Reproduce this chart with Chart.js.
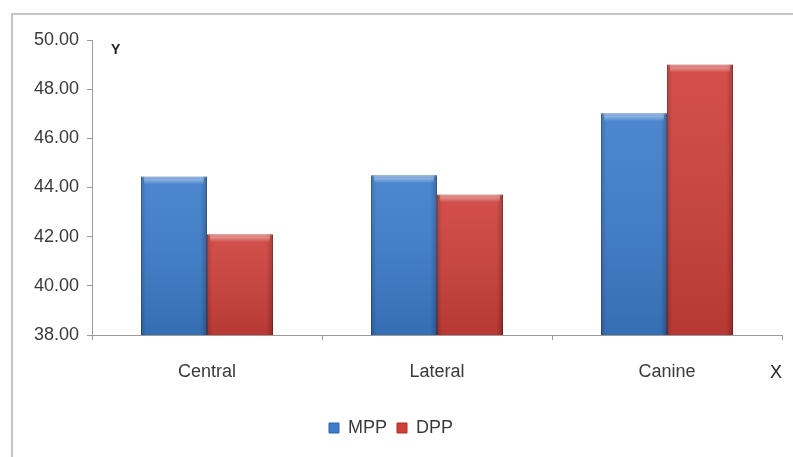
<!DOCTYPE html>
<html>
<head>
<meta charset="utf-8">
<script src="https://cdn.jsdelivr.net/npm/chart.js@4.4.1/dist/chart.umd.min.js"></script>
<style>
    html, body { margin: 0; padding: 0; background: #fff; overflow: hidden; }
    #frame {
        position: absolute; left: 11px; top: 13px;
        width: 800px; height: 460px;
        border-left: 2px solid #c4c4c4; border-top: 2px solid #c4c4c4;
    }
    #box { position: absolute; left: 0; top: 0; width: 793px; height: 457px; }
</style>
</head>
<body>
<div id="frame"></div>
<div id="box"><canvas id="chart"></canvas></div>
<script>
// Data
const categories = ["Central", "Lateral", "Canine"];
const mppValues = [44.45, 44.5, 47.02];
const dppValues = [42.1, 43.72, 49.0];
const yTicks = [38, 40, 42, 44, 46, 48, 50];

const fontFamily = "'Liberation Sans', Arial, sans-serif";
const textColor = "#3a3a3a";

// Bevel look on each bar, drawn over the library's own bar elements
const bevelPlugin = {
    id: "bevel",
    afterDatasetDraw(chart, args) {
        const ctx = chart.ctx;
        const meta = args.meta;
        const bottom = chart.chartArea.bottom;
        meta.data.forEach((bar) => {
            const left = bar.x - bar.width / 2;
            const top = bar.y;
            const base = Math.min(bar.base, bottom);
            const h = base - top;
            const w = bar.width;
            ctx.save();
            let g = ctx.createLinearGradient(left, 0, left + w, 0);
            g.addColorStop(0, "rgba(0,0,0,0.18)");
            g.addColorStop(0.08, "rgba(0,0,0,0)");
            g.addColorStop(0.9, "rgba(0,0,0,0)");
            g.addColorStop(1, "rgba(0,0,0,0.25)");
            ctx.fillStyle = g;
            ctx.fillRect(left, top, w, h);
            let v = ctx.createLinearGradient(0, top, 0, base);
            v.addColorStop(0, "rgba(255,255,255,0.08)");
            v.addColorStop(1, "rgba(0,0,0,0.12)");
            ctx.fillStyle = v;
            ctx.fillRect(left, top, w, h);
            let t = ctx.createLinearGradient(0, top, 0, top + 8);
            t.addColorStop(0, "rgba(255,255,255,0.15)");
            t.addColorStop(0.4, "rgba(255,255,255,0.35)");
            t.addColorStop(1, "rgba(255,255,255,0)");
            ctx.fillStyle = t;
            ctx.fillRect(left + 3, top, w - 6, 8);
            ctx.restore();
        });
    }
};

// Axis letters "Y" and "X"
const axisLetters = {
    id: "axisLetters",
    afterDraw(chart) {
        const ctx = chart.ctx;
        const area = chart.chartArea;
        ctx.save();
        ctx.fillStyle = "#222";
        ctx.textBaseline = "middle";
        ctx.textAlign = "left";
        ctx.font = "bold 14px " + fontFamily;
        ctx.fillText("Y", area.left + 19, area.top + 10);
        ctx.font = "18px " + fontFamily;
        ctx.fillText("X", area.right - 12, area.bottom + 38);
        ctx.restore();
    }
};

new Chart(document.getElementById("chart"), {
    type: "bar",
    data: {
        labels: categories,
        datasets: [
            {
                label: "MPP",
                data: mppValues,
                backgroundColor: "#3d7dcb",
                borderColor: "#2f64a8",
                borderWidth: 1,
                categoryPercentage: 0.574,
                barPercentage: 1
            },
            {
                label: "DPP",
                data: dppValues,
                backgroundColor: "#cf403b",
                borderColor: "#a8302c",
                borderWidth: 1,
                categoryPercentage: 0.574,
                barPercentage: 1
            }
        ]
    },
    options: {
        responsive: true,
        maintainAspectRatio: false,
        animation: false,
        layout: {
            padding: { top: 40, right: 11, bottom: 10, left: 0 }
        },
        scales: {
            x: {
                grid: {
                    display: true,
                    drawOnChartArea: false,
                    offset: true,
                    tickLength: 5,
                    color: "#9a9a9a"
                },
                border: { color: "#9a9a9a", width: 1 },
                ticks: {
                    padding: 21,
                    color: textColor,
                    font: { family: fontFamily, size: 18 }
                },
                afterFit(scale) { scale.height = 74; }
            },
            y: {
                min: 38,
                max: 50,
                afterBuildTicks(scale) {
                    scale.ticks = yTicks.map((v) => ({ value: v }));
                },
                grid: {
                    display: true,
                    drawOnChartArea: false,
                    tickLength: 5,
                    color: "#9a9a9a"
                },
                border: { color: "#9a9a9a", width: 1 },
                ticks: {
                    padding: 8,
                    color: textColor,
                    font: { family: fontFamily, size: 18 },
                    callback: (v) => Number(v).toFixed(2)
                },
                afterFit(scale) { scale.width = 92; }
            }
        },
        plugins: {
            legend: {
                position: "bottom",
                labels: {
                    boxWidth: 10,
                    boxHeight: 10,
                    padding: 10,
                    color: textColor,
                    font: { family: fontFamily, size: 18 }
                }
            },
            tooltip: { enabled: false }
        }
    },
    plugins: [bevelPlugin, axisLetters]
});
</script>
</body>
</html>
